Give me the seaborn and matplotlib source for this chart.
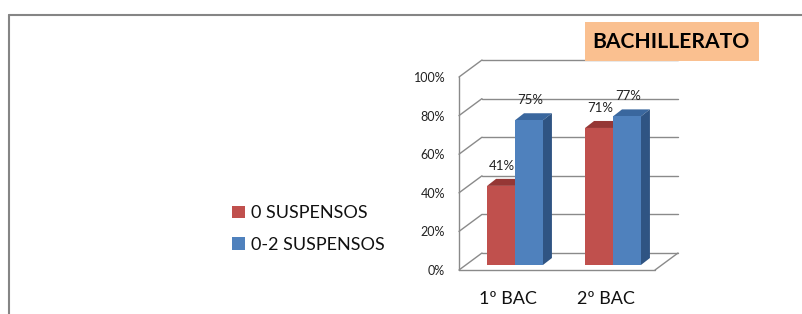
import matplotlib
matplotlib.use('Agg')
import matplotlib.pyplot as plt
import matplotlib.transforms as mtransforms
from matplotlib.patches import Polygon, Rectangle, Patch
from matplotlib.lines import Line2D
from matplotlib.ticker import PercentFormatter
import numpy as np
import pandas as pd
import seaborn as sns

# Data
cursos = ['1º BAC', '2º BAC']
series = ['0 SUSPENSOS', '0-2 SUSPENSOS']
cero_suspensos = [0.41, 0.71]
hasta_dos_suspensos = [0.75, 0.77]
yticks = [0, 0.2, 0.4, 0.6, 0.8, 1.0]

colores = ['#C0504D', '#4F81BD']
colores_techo = ['#953735', '#3A679E']
colores_lado = ['#8C3330', '#2F5483']
gris = '#8A8A8A'

df = pd.DataFrame({
    'curso': cursos * 2,
    'serie': [series[0]] * 2 + [series[1]] * 2,
    'valor': cero_suspensos + hasta_dos_suspensos,
})

sns.set_style('white')
plt.rcParams['font.family'] = ['Lato', 'DejaVu Sans']

W, H, DPI = 802, 314, 100
fig = plt.figure(figsize=(W / DPI, H / DPI), dpi=DPI)

# axes = plane of the bar front faces (pixels)
left, right, bottom, top = 466, 662, 265, 72
ax = fig.add_axes([left / W, 1 - bottom / H, (right - left) / W, (bottom - top) / H])

sns.barplot(data=df, x='curso', y='valor', hue='serie', palette=colores,
            width=0.57, saturation=1, legend=False, ax=ax, zorder=3,
            edgecolor='none', linewidth=0)
ax.set_xlim(-0.5, 1.5)
ax.set_ylim(0, 1)
for s in ax.spines.values():
    s.set_visible(False)

px_x = (right - left) / 2.0   # pixels per x unit
px_y = (bottom - top) / 1.0   # pixels per y unit

# depth offsets in pixels: front plane, back wall, bar depth
front = (-7, -5)
back = (16, 12)
prof = (9, 7)

def off(x, y, d):
    return x + d[0] / px_x, y + d[1] / px_y

x0, x1 = ax.get_xlim()

# back wall gridlines and left wall diagonals
for v in yticks:
    bx0, by = off(x0, v, back)
    bx1, _ = off(x1, v, back)
    ax.plot([bx0, bx1], [by, by], color=gris, lw=1, zorder=1, clip_on=False)
    fx, fy = off(x0, v, front)
    ax.plot([fx, bx0], [fy, by], color=gris, lw=1, zorder=1, clip_on=False)

# front vertical axis and floor
fx, fy0 = off(x0, 0, front)
_, fy1 = off(x0, 1, front)
ax.plot([fx, fx], [fy0, fy1], color=gris, lw=1, zorder=1, clip_on=False)
fx1, _ = off(x1, 0, front)
ax.plot([fx, fx1], [fy0, fy0], color=gris, lw=1, zorder=1, clip_on=False)
bx1, by0 = off(x1, 0, back)
ax.plot([fx1, bx1], [fy0, by0], color=gris, lw=1, zorder=1, clip_on=False)

# 3D faces of the bars + value labels
for i, cont in enumerate(ax.containers):
    for bar in cont:
        x = bar.get_x()
        w = bar.get_width()
        h = bar.get_height()
        techo = [(x, h), (x + w, h), off(x + w, h, prof), off(x, h, prof)]
        lado = [(x + w, 0), (x + w, h), off(x + w, h, prof), off(x + w, 0, prof)]
        ax.add_patch(Polygon(techo, closed=True, facecolor=colores_techo[i],
                             edgecolor='none', zorder=2.5, clip_on=False))
        ax.add_patch(Polygon(lado, closed=True, facecolor=colores_lado[i],
                             edgecolor='none', zorder=2.5, clip_on=False))
        ax.annotate(f'{h:.0%}', (x + w / 2, h), xytext=(1, 20),
                    textcoords='offset pixels', ha='center', va='center',
                    fontsize=9.5, color='#222222', zorder=4)

# ticks on the front plane
ax.set_yticks(yticks)
ax.yaxis.set_major_formatter(PercentFormatter(1, decimals=0))
ax.tick_params(axis='y', length=0, pad=10, labelsize=9, labelcolor='#222222')
ax.tick_params(axis='x', length=0, pad=15, labelsize=13, labelcolor='#111111')
ax.set_xlabel('')
ax.set_ylabel('')
sh_y = mtransforms.ScaledTranslation(front[0] / DPI, front[1] / DPI, fig.dpi_scale_trans)
for lab in ax.get_yticklabels():
    lab.set_transform(lab.get_transform() + sh_y)
for lab in ax.get_xticklabels():
    lab.set_transform(lab.get_transform() + sh_y)

# legend
handles = [Patch(facecolor=c, edgecolor='none') for c in colores]
fig.legend(handles, series, loc='center left',
           bbox_to_anchor=(216 / W, 1 - 229 / H), frameon=False,
           fontsize=13, handlelength=0.7, handleheight=0.7,
           handletextpad=0.35, labelspacing=0.85, labelcolor='#111111')

# title box
fig.add_artist(Rectangle((585 / W, 1 - 61 / H), (759 - 585) / W, (61 - 22) / H,
                         transform=fig.transFigure, facecolor='#FAC090',
                         edgecolor='none'))
fig.text(671 / W, 1 - 42 / H, 'BACHILLERATO', ha='center', va='center',
         fontsize=15.2, fontweight='bold', color='black')

# outer frame (top and left)
fig.add_artist(Line2D([9 / W, 1], [1 - 15 / H, 1 - 15 / H], transform=fig.transFigure,
                      color='#858585', lw=1.5))
fig.add_artist(Line2D([9 / W, 9 / W], [0, 1 - 15 / H], transform=fig.transFigure,
                      color='#858585', lw=1.5))

fig.savefig('out.png', dpi=DPI)
